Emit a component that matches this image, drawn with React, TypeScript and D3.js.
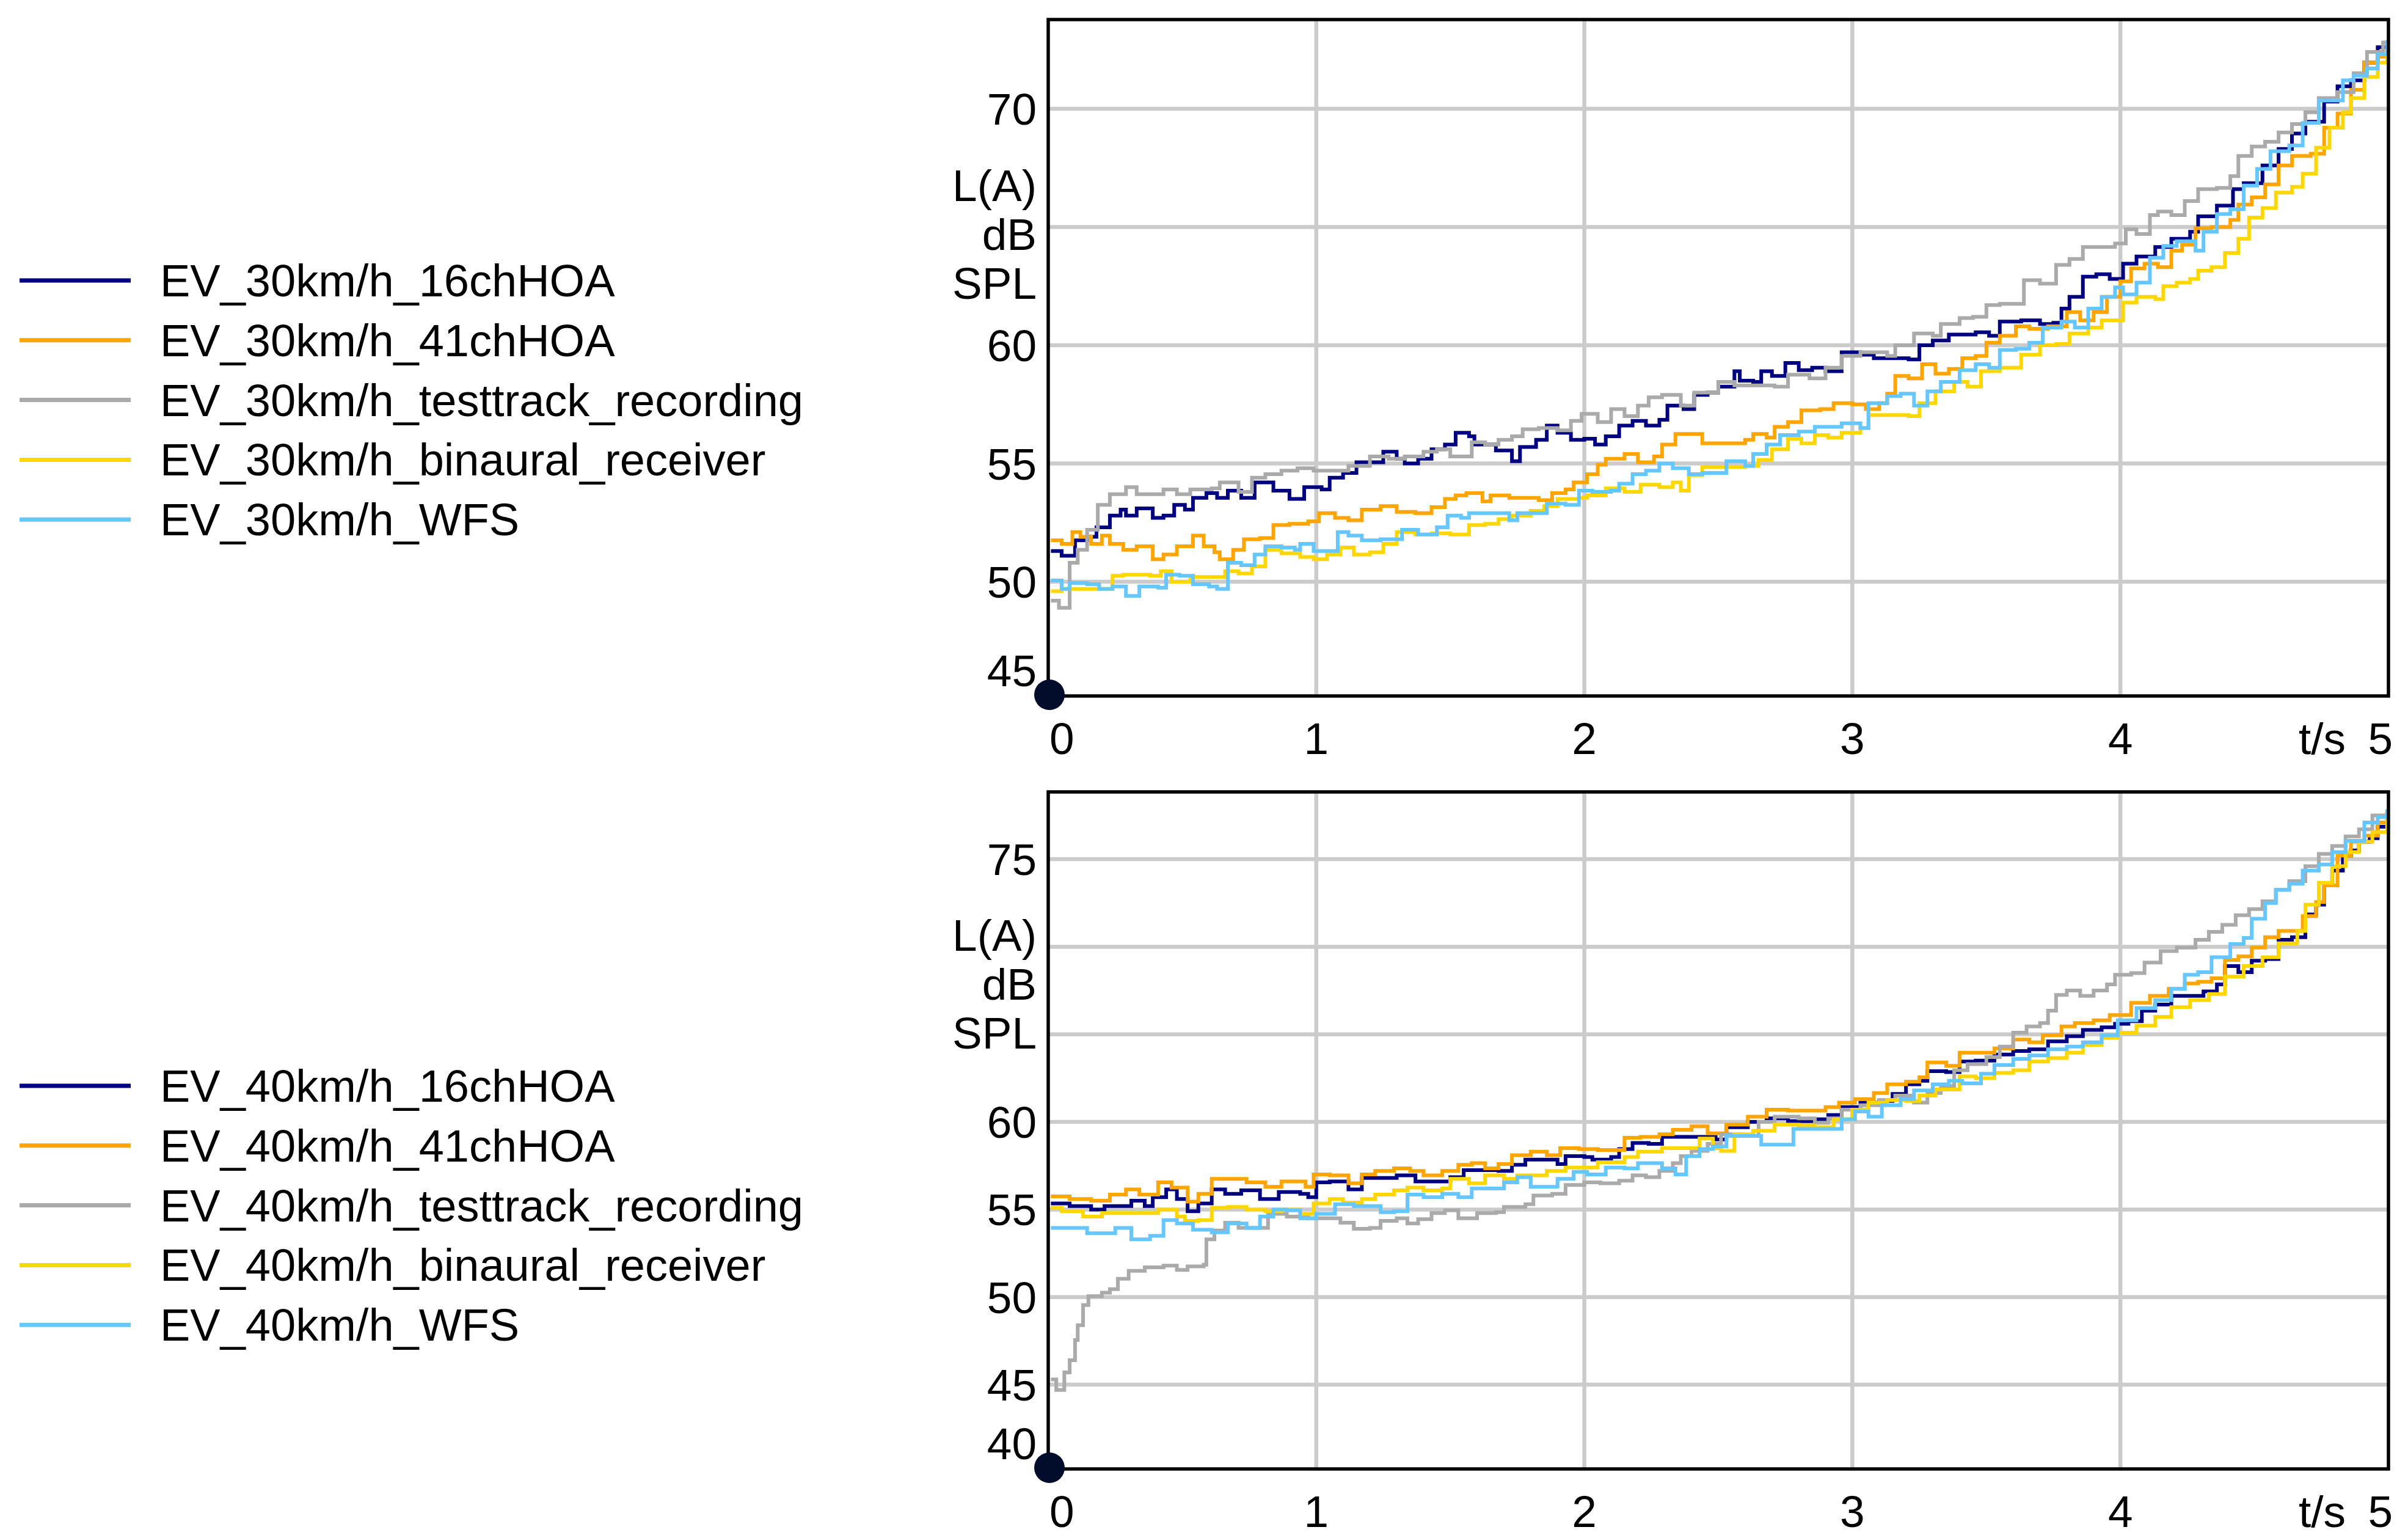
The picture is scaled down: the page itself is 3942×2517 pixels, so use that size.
import React, { useRef, useEffect } from "react";
import * as d3 from "d3";

type Pt = [number, number];

const W = 3942;
const H = 2517;
const FONT = "'Liberation Sans', Arial, sans-serif";

const SERIES_NAMES = ["16chHOA", "41chHOA", "testtrack_recording", "binaural_receiver", "WFS"];
const SERIES_COLORS = ["#000080", "#FFA500", "#AAAAAA", "#FFD700", "#66C6FF"];
const X_TICKS = [0, 1, 2, 3, 4, 5];
const Y_TITLE = ["L(A)", "dB", "SPL"];

// ---- EV 30 km/h (t in s, L(A) in dB SPL) ----
const ev30_16ch: Pt[] = [
  [0.01, 51.3], [0.05, 51.1], [0.1, 51.75], [0.145, 51.9], [0.18, 52.3], [0.23, 52.8], [0.27, 53.05], [0.29, 52.8],
  [0.33, 53.1], [0.39, 52.7], [0.43, 52.8], [0.47, 53.25], [0.51, 53.05], [0.54, 53.55], [0.59, 53.75], [0.63, 53.55],
  [0.67, 53.85], [0.72, 53.55], [0.77, 54.2], [0.84, 53.85], [0.9, 53.5], [0.955, 54.0], [1.02, 53.9], [1.05, 54.4],
  [1.1, 54.6], [1.15, 55.05], [1.19, 55.05], [1.25, 55.5], [1.3, 55.2], [1.33, 55.0], [1.38, 55.2], [1.43, 55.6],
  [1.48, 55.8], [1.52, 56.3], [1.57, 56.15], [1.59, 55.8], [1.63, 55.8], [1.67, 55.55], [1.7, 55.55], [1.73, 55.1],
  [1.76, 55.7], [1.82, 56.0], [1.86, 56.6], [1.9, 56.3], [1.95, 56.0], [2.0, 56.05], [2.04, 55.8], [2.08, 56.15],
  [2.13, 56.6], [2.18, 56.8], [2.23, 56.6], [2.28, 56.85], [2.31, 57.45], [2.37, 57.3], [2.41, 57.9], [2.46, 58.0],
  [2.5, 58.25], [2.56, 58.9], [2.58, 58.5], [2.63, 58.45], [2.66, 58.9], [2.7, 58.7], [2.75, 59.25], [2.8, 58.95],
  [2.85, 59.05], [2.9, 58.9], [2.96, 59.7], [3.03, 59.6], [3.08, 59.45], [3.15, 59.45], [3.21, 59.4], [3.25, 60.0],
  [3.3, 60.2], [3.36, 60.45], [3.46, 60.55], [3.51, 60.4], [3.55, 61.0], [3.63, 61.05], [3.7, 60.9], [3.75, 60.95],
  [3.78, 61.55], [3.81, 62.05], [3.86, 62.9], [3.91, 63.0], [3.96, 62.8], [4.01, 63.45], [4.06, 63.75], [4.13, 64.15],
  [4.19, 64.5], [4.26, 64.8], [4.29, 65.45], [4.36, 65.9], [4.42, 66.6], [4.46, 66.85], [4.53, 67.6], [4.59, 68.3],
  [4.64, 68.95], [4.69, 69.45], [4.76, 70.3], [4.81, 70.95], [4.86, 71.2], [4.91, 71.95], [4.96, 72.6], [4.995, 72.6],
];
const ev30_41ch: Pt[] = [
  [0.01, 51.75], [0.05, 51.6], [0.09, 52.1], [0.12, 51.9], [0.16, 51.6], [0.2, 51.95], [0.23, 51.6], [0.28, 51.35],
  [0.33, 51.5], [0.39, 50.95], [0.43, 51.15], [0.48, 51.5], [0.54, 51.95], [0.58, 51.5], [0.62, 51.25], [0.64, 50.95],
  [0.69, 51.35], [0.73, 51.8], [0.79, 51.85], [0.84, 52.4], [0.9, 52.45], [0.97, 52.55], [1.01, 52.9], [1.07, 52.7],
  [1.12, 52.6], [1.17, 53.05], [1.24, 53.2], [1.3, 52.95], [1.37, 52.9], [1.43, 53.15], [1.48, 53.5], [1.52, 53.65],
  [1.56, 53.75], [1.62, 53.4], [1.65, 53.65], [1.72, 53.55], [1.8, 53.55], [1.83, 53.45], [1.88, 53.75], [1.93, 53.9],
  [1.96, 54.2], [2.01, 54.55], [2.05, 54.95], [2.08, 55.2], [2.15, 55.4], [2.2, 55.05], [2.26, 55.3], [2.29, 55.8],
  [2.34, 56.25], [2.39, 56.25], [2.44, 55.85], [2.53, 55.85], [2.6, 56.0], [2.63, 56.25], [2.68, 56.1], [2.71, 56.55],
  [2.76, 56.75], [2.81, 57.25], [2.88, 57.3], [2.93, 57.55], [3.0, 57.5], [3.05, 57.3], [3.1, 57.55], [3.13, 57.95],
  [3.16, 58.7], [3.21, 58.6], [3.26, 59.2], [3.31, 58.8], [3.36, 59.0], [3.41, 59.45], [3.46, 59.55], [3.5, 60.1],
  [3.55, 60.4], [3.61, 60.8], [3.66, 60.7], [3.73, 60.8], [3.8, 61.4], [3.85, 61.05], [3.9, 61.4], [3.95, 62.05],
  [4.0, 62.7], [4.04, 63.25], [4.09, 63.45], [4.14, 63.3], [4.19, 64.0], [4.23, 64.25], [4.28, 64.95], [4.34, 65.0],
  [4.41, 65.3], [4.44, 65.95], [4.49, 66.25], [4.54, 66.8], [4.59, 67.6], [4.64, 68.0], [4.71, 68.1], [4.76, 69.2],
  [4.81, 69.8], [4.86, 70.8], [4.91, 71.95], [4.96, 72.2], [4.995, 72.6],
];
const ev30_track: Pt[] = [
  [0.01, 49.2], [0.04, 48.9], [0.08, 50.8], [0.11, 51.35], [0.145, 52.2], [0.185, 53.25], [0.23, 53.7], [0.29, 54.0],
  [0.33, 53.7], [0.43, 53.9], [0.48, 53.7], [0.53, 53.9], [0.61, 53.95], [0.64, 54.2], [0.71, 53.8], [0.76, 54.4],
  [0.81, 54.55], [0.87, 54.7], [0.93, 54.8], [0.99, 54.7], [1.04, 54.7], [1.12, 54.9], [1.2, 55.3], [1.27, 55.2],
  [1.33, 55.3], [1.4, 55.5], [1.45, 55.6], [1.5, 55.3], [1.55, 55.3], [1.58, 55.9], [1.63, 55.8], [1.68, 56.0],
  [1.73, 56.15], [1.77, 56.45], [1.83, 56.5], [1.9, 56.4], [1.95, 56.8], [1.99, 57.1], [2.05, 56.75], [2.1, 57.3],
  [2.15, 57.0], [2.2, 57.45], [2.24, 57.8], [2.29, 57.9], [2.36, 57.45], [2.41, 58.0], [2.5, 58.45], [2.56, 58.3],
  [2.63, 58.3], [2.71, 58.25], [2.76, 58.75], [2.84, 58.6], [2.9, 59.05], [2.96, 59.55], [3.03, 59.7], [3.13, 59.55],
  [3.16, 60.0], [3.23, 60.5], [3.3, 60.4], [3.33, 60.9], [3.4, 61.15], [3.45, 61.2], [3.5, 61.7], [3.55, 61.75],
  [3.61, 61.75], [3.64, 62.75], [3.7, 62.6], [3.76, 63.4], [3.81, 63.65], [3.86, 64.15], [3.93, 64.15], [3.98, 64.3],
  [4.02, 64.9], [4.06, 64.7], [4.11, 65.5], [4.14, 65.65], [4.19, 65.5], [4.24, 66.1], [4.29, 66.6], [4.36, 66.65],
  [4.41, 67.15], [4.44, 68.0], [4.49, 68.4], [4.54, 68.6], [4.59, 69.0], [4.64, 69.35], [4.69, 69.85], [4.74, 70.45],
  [4.81, 70.7], [4.87, 71.5], [4.92, 72.4], [4.98, 72.8], [4.995, 72.9],
];
const ev30_binaural: Pt[] = [
  [0.01, 49.6], [0.05, 49.7], [0.11, 49.7], [0.19, 49.7], [0.24, 50.25], [0.28, 50.3], [0.38, 50.25], [0.42, 50.45],
  [0.46, 50.0], [0.53, 50.2], [0.61, 50.2], [0.66, 50.45], [0.71, 50.35], [0.76, 50.65], [0.81, 51.35], [0.87, 51.2],
  [0.94, 51.05], [0.99, 50.95], [1.04, 51.15], [1.09, 51.45], [1.14, 51.15], [1.2, 51.25], [1.25, 51.6], [1.3, 52.1],
  [1.37, 52.0], [1.43, 52.05], [1.5, 52.0], [1.57, 52.4], [1.63, 52.45], [1.68, 52.65], [1.73, 52.8], [1.8, 53.0],
  [1.85, 53.2], [1.9, 53.5], [1.98, 53.55], [2.01, 53.65], [2.08, 53.95], [2.15, 53.8], [2.21, 54.1], [2.28, 54.0],
  [2.33, 54.2], [2.36, 53.85], [2.39, 54.5], [2.44, 54.85], [2.53, 54.85], [2.6, 54.9], [2.65, 55.15], [2.7, 55.6],
  [2.76, 56.05], [2.81, 55.85], [2.86, 56.2], [2.91, 56.1], [2.96, 56.3], [3.03, 56.5], [3.06, 57.05], [3.13, 57.05],
  [3.21, 57.0], [3.25, 57.55], [3.31, 58.05], [3.38, 58.45], [3.43, 58.25], [3.48, 58.9], [3.55, 59.05], [3.6, 59.05],
  [3.63, 59.6], [3.7, 60.0], [3.76, 60.05], [3.81, 60.5], [3.88, 60.75], [3.93, 61.05], [3.99, 61.05], [4.01, 61.8],
  [4.06, 62.05], [4.13, 61.95], [4.16, 62.5], [4.21, 62.65], [4.26, 62.8], [4.29, 63.15], [4.34, 63.3], [4.39, 63.9],
  [4.44, 64.5], [4.48, 65.4], [4.53, 65.8], [4.58, 66.45], [4.64, 66.7], [4.68, 67.25], [4.73, 68.35], [4.78, 69.2],
  [4.83, 69.85], [4.86, 70.45], [4.91, 71.35], [4.96, 71.95], [4.995, 72.35],
];
const ev30_wfs: Pt[] = [
  [0.01, 50.05], [0.05, 49.7], [0.08, 49.95], [0.145, 49.9], [0.19, 49.7], [0.24, 49.8], [0.29, 49.4], [0.34, 49.8],
  [0.41, 49.75], [0.44, 50.3], [0.49, 50.25], [0.54, 49.9], [0.6, 49.8], [0.63, 49.7], [0.67, 50.8], [0.72, 50.7],
  [0.77, 51.15], [0.81, 51.5], [0.87, 51.45], [0.92, 51.35], [0.94, 51.6], [0.99, 51.3], [1.05, 51.3], [1.08, 52.1],
  [1.12, 51.95], [1.17, 51.75], [1.24, 51.8], [1.29, 51.8], [1.32, 52.2], [1.38, 52.0], [1.45, 52.3], [1.49, 52.8],
  [1.54, 52.7], [1.57, 52.9], [1.63, 52.9], [1.72, 52.6], [1.75, 52.9], [1.82, 52.9], [1.86, 53.3], [1.93, 53.25],
  [1.98, 53.85], [2.03, 53.8], [2.1, 53.85], [2.13, 54.15], [2.18, 54.55], [2.23, 54.7], [2.28, 55.0], [2.33, 54.8],
  [2.39, 54.55], [2.44, 54.6], [2.53, 55.1], [2.6, 54.9], [2.63, 55.4], [2.68, 55.8], [2.73, 56.2], [2.8, 56.35],
  [2.86, 56.55], [2.93, 56.55], [2.96, 56.7], [3.03, 56.5], [3.06, 57.55], [3.13, 57.85], [3.18, 57.95], [3.23, 57.45],
  [3.28, 58.05], [3.33, 58.45], [3.4, 58.95], [3.46, 59.2], [3.51, 59.05], [3.55, 59.8], [3.61, 59.85], [3.66, 60.1],
  [3.71, 60.75], [3.78, 61.0], [3.83, 60.75], [3.88, 61.55], [3.93, 62.05], [3.98, 62.45], [4.01, 62.15], [4.06, 62.65],
  [4.11, 63.7], [4.16, 64.2], [4.21, 64.4], [4.28, 64.0], [4.31, 64.8], [4.36, 65.55], [4.41, 65.75], [4.46, 66.75],
  [4.51, 67.45], [4.56, 68.2], [4.63, 68.45], [4.68, 69.4], [4.74, 70.35], [4.83, 71.2], [4.87, 71.4], [4.92, 71.7],
  [4.96, 72.3], [4.995, 72.9],
];

// ---- EV 40 km/h ----
const ev40_16ch: Pt[] = [
  [0.01, 55.35], [0.08, 55.2], [0.16, 55.0], [0.21, 55.2], [0.28, 55.2], [0.31, 55.5], [0.36, 55.2], [0.39, 55.7],
  [0.44, 56.15], [0.48, 55.6], [0.52, 54.9], [0.56, 55.35], [0.61, 56.15], [0.66, 55.9], [0.72, 56.1], [0.79, 55.6],
  [0.86, 56.0], [0.94, 55.9], [0.97, 55.7], [1.0, 56.55], [1.05, 56.6], [1.12, 56.15], [1.17, 56.8], [1.24, 56.8],
  [1.3, 56.95], [1.37, 56.6], [1.43, 56.6], [1.5, 56.85], [1.55, 57.25], [1.62, 57.25], [1.68, 57.2], [1.73, 57.55],
  [1.78, 57.85], [1.85, 57.85], [1.9, 57.6], [1.93, 58.05], [2.0, 58.0], [2.03, 57.85], [2.1, 58.0], [2.13, 58.45],
  [2.18, 58.8], [2.24, 58.75], [2.29, 59.15], [2.38, 59.15], [2.46, 59.15], [2.49, 59.0], [2.53, 59.7], [2.61, 60.0],
  [2.68, 60.2], [2.76, 60.05], [2.85, 60.15], [2.91, 60.4], [2.96, 60.85], [3.03, 61.1], [3.1, 61.2], [3.15, 61.6],
  [3.2, 62.15], [3.25, 62.35], [3.28, 62.9], [3.35, 62.85], [3.4, 63.45], [3.46, 63.5], [3.53, 63.85], [3.6, 64.05],
  [3.66, 64.15], [3.73, 64.6], [3.8, 64.9], [3.86, 65.25], [3.93, 65.4], [3.98, 65.6], [4.03, 65.75], [4.08, 66.35],
  [4.13, 66.7], [4.19, 67.2], [4.26, 67.2], [4.31, 67.45], [4.36, 67.85], [4.39, 68.9], [4.44, 68.55], [4.49, 69.2],
  [4.54, 69.3], [4.59, 70.4], [4.64, 70.55], [4.69, 71.85], [4.73, 72.4], [4.76, 73.5], [4.79, 74.35], [4.83, 75.2],
  [4.86, 75.5], [4.89, 76.0], [4.93, 76.2], [4.96, 76.85], [4.995, 77.65],
];
const ev40_41ch: Pt[] = [
  [0.01, 55.75], [0.08, 55.6], [0.16, 55.5], [0.23, 55.85], [0.29, 56.15], [0.34, 55.85], [0.41, 56.55], [0.46, 56.25],
  [0.52, 55.45], [0.56, 55.9], [0.61, 56.75], [0.67, 56.75], [0.74, 56.55], [0.81, 56.3], [0.87, 56.6], [0.96, 56.3],
  [0.99, 57.0], [1.05, 56.95], [1.12, 56.5], [1.17, 57.0], [1.22, 57.2], [1.29, 57.35], [1.35, 57.2], [1.4, 56.95],
  [1.47, 57.2], [1.53, 57.55], [1.58, 57.65], [1.63, 57.35], [1.68, 57.6], [1.73, 58.1], [1.8, 58.3], [1.86, 58.1],
  [1.91, 58.5], [1.98, 58.45], [2.05, 58.4], [2.1, 58.4], [2.15, 59.1], [2.21, 59.15], [2.28, 59.3], [2.33, 59.55],
  [2.4, 59.75], [2.46, 59.35], [2.53, 59.85], [2.61, 60.3], [2.68, 60.7], [2.76, 60.65], [2.85, 60.65], [2.9, 60.85],
  [2.95, 61.1], [3.01, 61.3], [3.08, 61.65], [3.13, 62.15], [3.2, 62.3], [3.25, 62.55], [3.28, 63.4], [3.35, 63.2],
  [3.4, 63.95], [3.46, 63.95], [3.53, 64.2], [3.6, 64.7], [3.66, 64.55], [3.71, 64.95], [3.78, 65.45], [3.83, 65.65],
  [3.9, 65.8], [3.96, 66.1], [4.04, 66.8], [4.11, 67.2], [4.18, 67.6], [4.24, 67.9], [4.29, 68.0], [4.34, 68.2],
  [4.39, 69.25], [4.44, 69.45], [4.49, 69.95], [4.54, 70.55], [4.59, 70.9], [4.64, 70.9], [4.68, 71.75], [4.73, 72.55],
  [4.76, 73.5], [4.81, 75.2], [4.86, 76.0], [4.91, 76.35], [4.96, 77.1], [4.995, 77.7],
];
const ev40_track: Pt[] = [
  [0.01, 45.3], [0.03, 44.7], [0.06, 45.7], [0.08, 46.4], [0.1, 47.55], [0.11, 48.4], [0.13, 49.55], [0.15, 50.05],
  [0.2, 50.25], [0.23, 50.45], [0.26, 51.05], [0.3, 51.5], [0.36, 51.7], [0.43, 51.8], [0.48, 51.55], [0.52, 51.75],
  [0.58, 51.85], [0.59, 53.3], [0.62, 53.8], [0.66, 54.25], [0.71, 53.95], [0.77, 53.95], [0.82, 54.75], [0.89, 54.6],
  [0.97, 54.5], [1.04, 54.5], [1.09, 54.25], [1.14, 53.9], [1.2, 53.95], [1.24, 54.35], [1.3, 54.5], [1.34, 54.2],
  [1.38, 54.45], [1.43, 54.8], [1.48, 54.95], [1.53, 54.5], [1.6, 54.8], [1.67, 54.85], [1.7, 55.15], [1.78, 55.3],
  [1.81, 55.8], [1.88, 55.9], [1.93, 56.4], [2.0, 56.55], [2.06, 56.5], [2.13, 56.65], [2.18, 56.95], [2.23, 56.85],
  [2.28, 57.2], [2.33, 57.65], [2.36, 58.05], [2.4, 58.35], [2.46, 58.75], [2.51, 59.3], [2.58, 59.2], [2.65, 60.0],
  [2.71, 60.3], [2.8, 60.2], [2.86, 59.95], [2.91, 60.2], [2.96, 60.7], [3.03, 60.95], [3.1, 61.25], [3.16, 61.5],
  [3.23, 61.1], [3.28, 61.65], [3.33, 62.05], [3.38, 62.95], [3.43, 63.3], [3.5, 63.7], [3.55, 64.3], [3.6, 65.1],
  [3.65, 65.45], [3.7, 65.65], [3.73, 66.35], [3.76, 67.25], [3.8, 67.5], [3.85, 67.2], [3.9, 67.5], [3.95, 67.85],
  [3.98, 68.4], [4.04, 68.5], [4.09, 69.1], [4.15, 69.75], [4.21, 69.95], [4.28, 70.4], [4.33, 70.85], [4.38, 71.25],
  [4.43, 71.8], [4.48, 72.15], [4.53, 72.6], [4.58, 73.25], [4.63, 73.75], [4.69, 74.6], [4.74, 75.3], [4.79, 75.75],
  [4.84, 76.3], [4.89, 76.7], [4.94, 77.5], [4.995, 77.85],
];
const ev40_binaural: Pt[] = [
  [0.01, 55.1], [0.05, 54.9], [0.13, 54.6], [0.2, 54.8], [0.28, 54.8], [0.36, 54.8], [0.41, 55.0], [0.48, 54.6],
  [0.51, 54.35], [0.56, 54.4], [0.61, 55.1], [0.67, 55.15], [0.74, 55.0], [0.81, 54.9], [0.87, 55.0], [0.94, 54.75],
  [0.99, 55.35], [1.05, 55.6], [1.1, 55.4], [1.17, 55.6], [1.22, 55.85], [1.29, 56.1], [1.34, 56.25], [1.4, 56.1],
  [1.47, 56.2], [1.5, 56.75], [1.57, 56.5], [1.63, 56.95], [1.7, 56.75], [1.75, 56.95], [1.8, 56.95], [1.86, 57.2],
  [1.93, 57.4], [2.01, 57.4], [2.05, 57.7], [2.11, 57.7], [2.15, 58.0], [2.2, 58.3], [2.24, 58.3], [2.29, 58.5],
  [2.38, 58.5], [2.43, 59.05], [2.48, 58.5], [2.51, 58.35], [2.56, 59.3], [2.63, 59.5], [2.71, 59.85], [2.8, 59.8],
  [2.86, 59.7], [2.93, 60.15], [3.0, 60.7], [3.06, 61.1], [3.13, 61.25], [3.2, 61.2], [3.25, 61.5], [3.31, 61.85],
  [3.4, 62.6], [3.46, 62.5], [3.53, 62.8], [3.6, 62.95], [3.66, 63.45], [3.73, 63.65], [3.8, 63.95], [3.86, 64.4],
  [3.93, 64.8], [3.99, 65.1], [4.06, 65.5], [4.13, 66.0], [4.19, 66.55], [4.26, 66.95], [4.33, 67.3], [4.39, 68.3],
  [4.46, 68.9], [4.53, 69.4], [4.59, 70.2], [4.66, 70.9], [4.69, 72.4], [4.74, 73.65], [4.79, 74.6], [4.84, 75.4],
  [4.89, 76.0], [4.94, 76.55], [4.995, 77.4],
];
const ev40_wfs: Pt[] = [
  [0.01, 53.95], [0.08, 53.95], [0.145, 53.65], [0.21, 53.65], [0.25, 53.95], [0.31, 53.3], [0.38, 53.5], [0.43, 54.4],
  [0.48, 54.2], [0.54, 53.85], [0.61, 53.7], [0.67, 54.2], [0.74, 53.95], [0.79, 54.6], [0.84, 55.0], [0.89, 54.95],
  [0.94, 54.5], [1.0, 54.75], [1.07, 55.3], [1.14, 55.2], [1.2, 55.2], [1.24, 54.85], [1.29, 54.9], [1.34, 55.85],
  [1.4, 55.7], [1.47, 55.9], [1.53, 55.7], [1.58, 56.2], [1.65, 56.2], [1.7, 56.55], [1.75, 56.85], [1.8, 56.3],
  [1.86, 56.3], [1.9, 56.75], [1.96, 57.15], [2.01, 57.0], [2.08, 57.4], [2.15, 57.35], [2.2, 57.65], [2.27, 57.65],
  [2.29, 57.35], [2.34, 57.0], [2.38, 58.05], [2.43, 58.45], [2.48, 58.6], [2.53, 59.2], [2.6, 59.2], [2.66, 58.7],
  [2.73, 58.7], [2.78, 59.6], [2.85, 59.6], [2.91, 59.6], [2.96, 60.15], [3.01, 60.6], [3.06, 60.3], [3.11, 60.95],
  [3.18, 61.3], [3.23, 61.8], [3.3, 62.15], [3.36, 62.35], [3.41, 62.2], [3.48, 62.75], [3.53, 63.25], [3.6, 63.6],
  [3.66, 63.8], [3.73, 64.15], [3.8, 64.3], [3.86, 64.55], [3.93, 64.95], [3.99, 65.8], [4.06, 66.5], [4.13, 66.95],
  [4.19, 67.6], [4.24, 68.4], [4.29, 68.55], [4.34, 69.4], [4.41, 70.15], [4.46, 70.5], [4.49, 71.6], [4.54, 72.5],
  [4.58, 73.25], [4.63, 73.6], [4.68, 74.35], [4.74, 74.7], [4.79, 75.4], [4.84, 76.05], [4.91, 77.1], [4.96, 77.4],
  [4.995, 77.8],
];

const GRID_30 = [50, 55, 60, 65, 70];
const LABELS_30 = [45, 50, 55, 60, 70];
const GRID_40 = [45, 50, 55, 60, 65, 70, 75];
const LABELS_40 = [40, 45, 50, 55, 60, 75];

interface Panel {
  speed: string;
  series: Pt[][];
  yDomain: [number, number];
  top: number;
  bottom: number;
  grid: number[];
  labels: number[];
  titleAt: number;
  legendTop: number;
}

const panels: Panel[] = [
  {
    speed: "30km/h",
    series: [ev30_16ch, ev30_41ch, ev30_track, ev30_binaural, ev30_wfs],
    yDomain: [45.17, 73.77],
    top: 32,
    bottom: 1139,
    grid: GRID_30,
    labels: LABELS_30,
    titleAt: 64.7,
    legendTop: 459,
  },
  {
    speed: "40km/h",
    series: [ev40_16ch, ev40_41ch, ev40_track, ev40_binaural, ev40_wfs],
    yDomain: [40.19, 78.84],
    top: 1296,
    bottom: 2404,
    grid: GRID_40,
    labels: LABELS_40,
    titleAt: 67.9,
    legendTop: 1777,
  },
];

const PLOT_LEFT = 1716;
const PLOT_RIGHT = 3910;
const LABEL_X = 1697;
const LEGEND_STEP = 97.8;

const LevelChart: React.FC = () => {
  const svgRef = useRef<SVGSVGElement | null>(null);

  const drawChart = () => {
    if (!svgRef.current) return;
    const svg = d3.select(svgRef.current);
    svg.selectAll("*").remove();

    svg.append("rect").attr("width", W).attr("height", H).attr("fill", "#ffffff");

    const x = d3.scaleLinear().domain([0, 5]).range([PLOT_LEFT, PLOT_RIGHT]);

    panels.forEach((p) => {
      const y = d3.scaleLinear().domain(p.yDomain).range([p.bottom, p.top]);
      const g = svg.append("g");

      // grid
      g.selectAll(".hgrid")
        .data(p.grid)
        .enter()
        .append("line")
        .attr("x1", PLOT_LEFT)
        .attr("x2", PLOT_RIGHT)
        .attr("y1", (d) => y(d))
        .attr("y2", (d) => y(d))
        .attr("stroke", "#cbcbcb")
        .attr("stroke-width", 6.5);
      g.selectAll(".vgrid")
        .data(X_TICKS.filter((t) => t > 0 && t < 5))
        .enter()
        .append("line")
        .attr("x1", (d) => x(d))
        .attr("x2", (d) => x(d))
        .attr("y1", p.top)
        .attr("y2", p.bottom)
        .attr("stroke", "#cbcbcb")
        .attr("stroke-width", 6.5);

      // level curves
      const line = d3
        .line<Pt>()
        .x((d) => x(d[0]))
        .y((d) => y(d[1]))
        .curve(d3.curveStepAfter);

      g.selectAll(".series")
        .data(p.series)
        .enter()
        .append("path")
        .attr("d", (d) => line(d) as string)
        .attr("fill", "none")
        .attr("stroke", (_d, i) => SERIES_COLORS[i])
        .attr("stroke-width", 6)
        .attr("stroke-linejoin", "miter");

      // frame
      g.append("rect")
        .attr("x", PLOT_LEFT)
        .attr("y", p.top)
        .attr("width", PLOT_RIGHT - PLOT_LEFT)
        .attr("height", p.bottom - p.top)
        .attr("fill", "none")
        .attr("stroke", "#000")
        .attr("stroke-width", 5.5);

      g.append("circle")
        .attr("cx", PLOT_LEFT + 2)
        .attr("cy", p.bottom - 2)
        .attr("r", 25)
        .attr("fill", "#020d2b");

      // y tick labels
      const low = d3.min(p.labels) as number;
      g.selectAll(".ylab")
        .data(p.labels)
        .enter()
        .append("text")
        .attr("x", LABEL_X)
        .attr("y", (d) => (d === low ? p.bottom - 16 : y(d) + 26))
        .attr("text-anchor", "end")
        .attr("font-family", FONT)
        .attr("font-size", 73)
        .text((d) => String(d));

      // y title
      g.selectAll(".ytitle")
        .data(Y_TITLE)
        .enter()
        .append("text")
        .attr("x", LABEL_X)
        .attr("y", (_d, i) => y(p.titleAt) + (i - 1) * 80 + 26)
        .attr("text-anchor", "end")
        .attr("font-family", FONT)
        .attr("font-size", 73)
        .text((d) => d);

      // x tick labels
      const xb = p.bottom + 95;
      g.selectAll(".xlab")
        .data(X_TICKS)
        .enter()
        .append("text")
        .attr("x", (d) => (d === 0 ? PLOT_LEFT + 2 : d === 5 ? PLOT_RIGHT + 7 : x(d)))
        .attr("y", xb)
        .attr("text-anchor", (d) => (d === 0 ? "start" : d === 5 ? "end" : "middle"))
        .attr("font-family", FONT)
        .attr("font-size", 73)
        .text((d) => String(d));
      g.append("text")
        .attr("x", PLOT_RIGHT - 70)
        .attr("y", xb)
        .attr("text-anchor", "end")
        .attr("font-family", FONT)
        .attr("font-size", 73)
        .text("t/s");

      // legend
      const lg = g.append("g");
      SERIES_NAMES.forEach((name, i) => {
        const ly = p.legendTop + i * LEGEND_STEP;
        lg.append("line")
          .attr("x1", 32)
          .attr("x2", 214)
          .attr("y1", ly)
          .attr("y2", ly)
          .attr("stroke", SERIES_COLORS[i])
          .attr("stroke-width", 7);
        lg.append("text")
          .attr("x", 262)
          .attr("y", ly + 26)
          .attr("font-family", FONT)
          .attr("font-size", 74)
          .text(`EV_${p.speed}_${name}`);
      });
    });
  };

  useEffect(() => {
    drawChart();
  }, []);

  return (
    <svg
      ref={svgRef}
      width={W}
      height={H}
      style={{ position: "absolute", left: 0, top: 0, display: "block" }}
    ></svg>
  );
};

export default function App() {
  return <LevelChart />;
}
